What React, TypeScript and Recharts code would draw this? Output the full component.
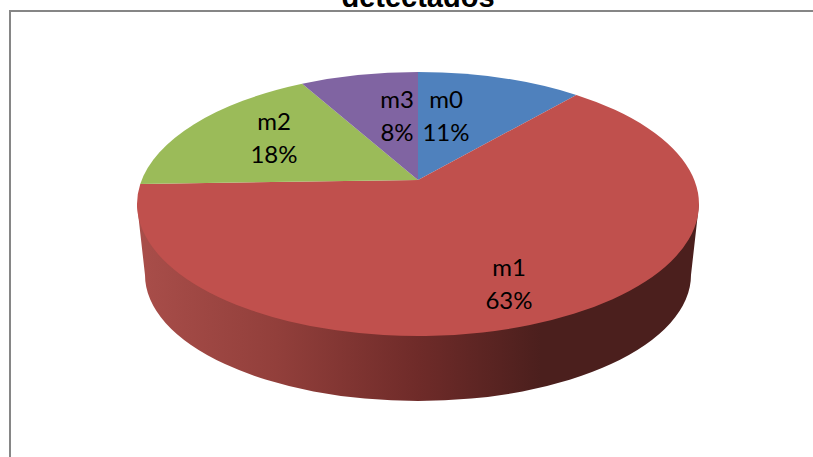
import { PieChart, Pie, Cell } from "recharts";

const categories = ["m0", "m1", "m2", "m3"];
const percents = [11.1, 63.4, 17.6, 7.9];
const colors = ["#4f81bd", "#c0504d", "#9bbb59", "#8064a2"];
const chartTitle = "detectados";

const data = categories.map((name, i) => ({ name, value: percents[i] }));

// label offsets from the pie centre, as Excel placed them
const LABEL_DX = [28, 91, -144, -21];
const LABEL_DY = [-96, 72, -74, -96];

// tilted disc: the top is an ellipse, and the apex sits above its centre (perspective)
const FONT = "Lato, Carlito, sans-serif";
const RY_RATIO = 132 / 281;
const APEX_UP = 24;
const K = 0.45;
const WALL_DROP = 71;
const BOTTOM_RATIO = 273 / 281;

const rimPoint = (cx: number, cy: number, r: number, angle: number) => {
  const a = (angle * Math.PI) / 180;
  const ry = r * RY_RATIO;
  const dx = Math.cos(a);
  const dy = -K * Math.sin(a);
  // ray from the apex against the ellipse
  const qa = (dx * dx) / (r * r) + (dy * dy) / (ry * ry);
  const qb = (2 * -APEX_UP * dy) / (ry * ry);
  const qc = (APEX_UP * APEX_UP) / (ry * ry) - 1;
  const t = (-qb + Math.sqrt(qb * qb - 4 * qa * qc)) / (2 * qa);
  return { x: cx + dx * t, y: cy - APEX_UP + dy * t };
};

const Slice = (props: any) => {
  const { cx, cy, outerRadius: r, startAngle, endAngle, fill, index } = props;
  const ry = r * RY_RATIO;
  const p0 = rimPoint(cx, cy, r, startAngle);
  const p1 = rimPoint(cx, cy, r, endAngle);
  const t0 = Math.atan2((p0.y - cy) / ry, (p0.x - cx) / r);
  const t1 = Math.atan2((p1.y - cy) / ry, (p1.x - cx) / r);
  let sweep = t1 - t0;
  if (sweep < 0) sweep += Math.PI * 2;
  const large = sweep > Math.PI ? 1 : 0;
  const top = `M${cx},${cy - APEX_UP} L${p0.x},${p0.y} A${r},${ry} 0 ${large} 1 ${p1.x},${p1.y} Z`;

  const br = r * BOTTOM_RATIO;
  const bry = ry * (126 / 132);
  const wall = `M${cx - r},${cy} L${cx - br},${cy + WALL_DROP} A${br},${bry} 0 0 0 ${cx + br},${cy + WALL_DROP} L${cx + r},${cy} Z`;

  return (
    <g>
      {index === 1 && (
        <>
          <defs>
            <linearGradient id="wallShade" x1="0" y1="0" x2="1" y2="0">
              <stop offset="0" stopColor="#a94e4a" />
              <stop offset="0.25" stopColor="#923f3b" />
              <stop offset="0.5" stopColor="#6f2b29" />
              <stop offset="0.72" stopColor="#4b1f1d" />
              <stop offset="1" stopColor="#4b1f1d" />
            </linearGradient>
          </defs>
          <path d={wall} fill="url(#wallShade)" />
        </>
      )}
      <path d={top} fill={fill} />
    </g>
  );
};

const SliceLabel = (props: any) => {
  const { cx, cy, index } = props;
  const x = cx + LABEL_DX[index];
  const y = cy + LABEL_DY[index];
  return (
    <text textAnchor="middle" fontFamily={FONT} fontSize={24} fill="#000">
      <tspan x={x} y={y}>
        {categories[index]}
      </tspan>
      <tspan x={x} y={y + 33}>
        {Math.round(percents[index])}%
      </tspan>
    </text>
  );
};

export default function App() {
  return (
    <div style={{ position: "fixed", left: 0, top: 0, width: 813, height: 457, background: "#fff", overflow: "hidden" }}>
      <div
        style={{
          position: "absolute",
          left: 9,
          top: 10,
          width: 820,
          height: 460,
          borderLeft: "2px solid #868686",
          borderTop: "2px solid #868686",
        }}
      />
      <div style={{ position: "absolute", left: 0, top: 0 }}>
        <PieChart width={813} height={457} margin={{ top: 0, right: 0, bottom: 0, left: 0 }}>
          <text
            x={418}
            y={7}
            textAnchor="middle"
            fontFamily="'Liberation Sans', Arial, sans-serif"
            fontWeight="bold"
            fontSize={29}
            fill="#000"
          >
            {chartTitle}
          </text>
          <Pie
            data={data}
            dataKey="value"
            nameKey="name"
            cx={418}
            cy={204}
            outerRadius={281}
            startAngle={90}
            endAngle={-270}
            paddingAngle={0}
            stroke="none"
            shape={Slice}
            label={SliceLabel}
            labelLine={false}
            isAnimationActive={false}
          >
            {data.map((_, idx) => (
              <Cell key={idx} fill={colors[idx]} />
            ))}
          </Pie>
        </PieChart>
      </div>
    </div>
  );
}
